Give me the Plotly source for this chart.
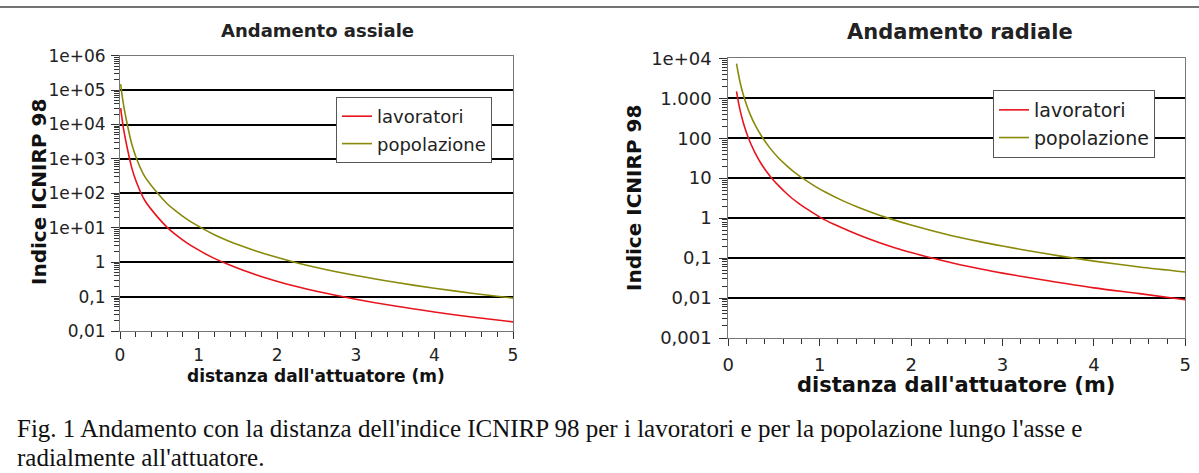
import plotly.graph_objects as go

W, H = 1199, 473

# ---- data ----
ax_x_pop = [0.008, 0.042, 0.093, 0.148, 0.212, 0.318, 0.479, 0.60, 0.70, 0.85, 1.047, 1.2, 1.38,
            1.55, 1.72, 1.95, 2.22, 2.5, 3.0, 3.5, 4.0, 4.5, 5.0]
ax_y_pop = [1.5e5, 4.1e4, 1.0e4, 2800, 1000, 300, 100, 50, 32, 17.8, 9.6, 6.3, 4.15,
            2.95, 2.15, 1.48, 1.0, 0.70, 0.41, 0.26, 0.175, 0.123, 0.09]

ax_x_lav = [0.008, 0.042, 0.093, 0.148, 0.212, 0.318, 0.479, 0.60, 0.70, 0.85, 1.047, 1.2, 1.38,
            1.55, 1.72, 1.95, 2.22, 2.5, 3.0, 3.5, 4.0, 4.5, 5.0]
ax_y_lav = [3.0e4, 8300, 2040, 570, 204, 61, 20.4, 10.3, 6.5, 3.63, 1.96, 1.29, 0.85,
            0.60, 0.44, 0.30, 0.204, 0.143, 0.084, 0.053, 0.0357, 0.0251, 0.0184]

rad_x_pop = [0.09, 0.11, 0.13, 0.165, 0.2, 0.24, 0.3, 0.37, 0.45, 0.55, 0.65, 0.75, 0.82, 0.95, 1.06, 1.25,
             1.42, 1.6, 1.75, 2.0, 2.37, 2.75, 3.0, 3.5, 3.78, 4.0, 4.5, 5.0]
rad_y_pop = [7400, 4100, 2450, 1200, 680, 390, 200, 107, 59, 32, 19.5, 12.6, 9.7, 6.25, 4.5, 2.74,
             1.87, 1.31, 1.0, 0.67, 0.40, 0.258, 0.20, 0.126, 0.10, 0.084, 0.060, 0.045]

rad_x_lav = [0.09, 0.11, 0.13, 0.165, 0.2, 0.24, 0.3, 0.36, 0.42, 0.475, 0.55, 0.62, 0.7, 0.77, 0.88, 1.02,
             1.15, 1.31, 1.47, 1.64, 1.82, 2.0, 2.23, 2.5, 2.75, 3.0, 3.5, 4.0, 4.5, 5.0]
rad_y_lav = [1480, 810, 490, 240, 135, 78, 40, 23, 14.5, 10, 6.5, 4.5, 3.1, 2.35, 1.58, 1.0,
             0.71, 0.49, 0.347, 0.25, 0.182, 0.138, 0.10, 0.071, 0.054, 0.042, 0.027, 0.018, 0.0129, 0.0091]

ax_tickvals = [0.01, 0.1, 1, 10, 100, 1e3, 1e4, 1e5, 1e6]
ax_ticktext = ["0,01", "0,1", "1", "1e+01", "1e+02", "1e+03", "1e+04", "1e+05", "1e+06"]
rad_tickvals = [0.001, 0.01, 0.1, 1, 10, 100, 1000, 1e4]
rad_ticktext = ["0,001", "0,01", "0,1", "1", "10", "100", "1.000", "1e+04"]

series_names = ["lavoratori", "popolazione"]
RED = "#e8141c"
OLIVE = "#898a0a"

FONT = "DejaVu Sans"


def px(x):
    return x / W


def py(y):
    return 1 - y / H


def minor_vals(lo, hi):
    vals = []
    for d in range(lo, hi):
        for k in range(2, 10):
            vals.append(k * 10 ** d)
    return vals


fig = go.Figure()

line_common = dict(width=1.6, shape="spline", smoothing=0.8)
fig.add_trace(go.Scatter(x=ax_x_lav, y=ax_y_lav, mode="lines", name=series_names[0],
                         line=dict(color=RED, **line_common),
                         xaxis="x", yaxis="y", legend="legend", legendgroup="a"))
fig.add_trace(go.Scatter(x=ax_x_pop, y=ax_y_pop, mode="lines", name=series_names[1],
                         line=dict(color=OLIVE, **line_common),
                         xaxis="x", yaxis="y", legend="legend", legendgroup="b"))
fig.add_trace(go.Scatter(x=rad_x_lav, y=rad_y_lav, mode="lines", name=series_names[0],
                         line=dict(color=RED, **line_common),
                         xaxis="x2", yaxis="y2", legend="legend2", legendgroup="c"))
fig.add_trace(go.Scatter(x=rad_x_pop, y=rad_y_pop, mode="lines", name=series_names[1],
                         line=dict(color=OLIVE, **line_common),
                         xaxis="x2", yaxis="y2", legend="legend2", legendgroup="d"))

common_x = dict(range=[0, 5], tickmode="linear", tick0=0, dtick=1, showgrid=False, zeroline=False,
                showline=True, linecolor="#777", linewidth=1, mirror=True, automargin=False,
                ticks="outside", ticklen=7, tickcolor="#333", tickwidth=1,
                minor=dict(dtick=0.2, ticks="outside", ticklen=5, tickcolor="#333", showgrid=False))
common_y = dict(type="log", showgrid=True, gridcolor="black", gridwidth=2, zeroline=False,
                showline=True, linecolor="#777", linewidth=1, mirror=True, automargin=False,
                ticks="outside", ticklen=8, tickcolor="#333", tickwidth=1, tickmode="array")

fig.update_layout(
    width=W, height=H,
    margin=dict(l=0, r=0, t=0, b=0, pad=0, autoexpand=False),
    paper_bgcolor="white", plot_bgcolor="white",
    font=dict(family=FONT, color="#222"),
    xaxis=dict(domain=[px(120), px(513)], anchor="y", tickfont=dict(size=17, family=FONT, color="#222"),
               ticklabelstandoff=2, **common_x),
    yaxis=dict(domain=[py(331), py(55.7)], anchor="x", range=[-2, 6],
               tickvals=ax_tickvals, ticktext=ax_ticktext,
               tickfont=dict(size=17, family=FONT, color="#222"), ticklabelstandoff=2,
               minor=dict(tickvals=minor_vals(-2, 6), ticks="outside", ticklen=5, tickcolor="#333", showgrid=False),
               **common_y),
    xaxis2=dict(domain=[px(728.3), px(1185.3)], anchor="y2", tickfont=dict(size=18, family=FONT, color="#222"),
                ticklabelstandoff=3, **common_x),
    yaxis2=dict(domain=[py(338), py(58.3)], anchor="x2", range=[-3, 4],
                tickvals=rad_tickvals, ticktext=rad_ticktext,
                tickfont=dict(size=18, family=FONT, color="#222"), ticklabelstandoff=4,
                minor=dict(tickvals=minor_vals(-3, 4), ticks="outside", ticklen=5, tickcolor="#333", showgrid=False),
                **common_y),
    legend=dict(x=px(336), y=py(97), xanchor="left", yanchor="top", bgcolor="white",
                bordercolor="#555", borderwidth=1, font=dict(size=18, family=FONT, color="#222"),
                tracegroupgap=1),
    legend2=dict(x=px(993), y=py(90), xanchor="left", yanchor="top", bgcolor="white",
                 bordercolor="#555", borderwidth=1, font=dict(size=19, family=FONT, color="#222"),
                 tracegroupgap=0),
    showlegend=True,
)

annotations = [
    dict(text="<b>Andamento assiale</b>", x=px(317), y=py(30), font=dict(size=18, family=FONT, color="#222")),
    dict(text="<b>Andamento radiale</b>", x=px(960), y=py(32), font=dict(size=21, family=FONT, color="#222")),
    dict(text="<b>distanza dall'attuatore (m)</b>", x=px(316), y=py(376), font=dict(size=17, family=FONT, color="#111")),
    dict(text="<b>distanza dall'attuatore (m)</b>", x=px(956), y=py(385), font=dict(size=21, family=FONT, color="#111")),
    dict(text="<b>Indice ICNIRP 98</b>", x=px(39), y=py(192), textangle=-90, font=dict(size=20, family=FONT, color="#111")),
    dict(text="<b>Indice ICNIRP 98</b>", x=px(634), y=py(198), textangle=-90, font=dict(size=20, family=FONT, color="#111")),
    dict(text="Fig. 1 Andamento con la distanza dell'indice ICNIRP 98 per i lavoratori e per la popolazione lungo l'asse e",
         x=px(15), y=py(428), xanchor="left", font=dict(size=25, family="Liberation Serif", color="#111")),
    dict(text="radialmente all'attuatore.",
         x=px(15), y=py(457), xanchor="left", font=dict(size=25, family="Liberation Serif", color="#111")),
]
for a in annotations:
    a.setdefault("xanchor", "center")
    a["xref"] = "paper"
    a["yref"] = "paper"
    a["showarrow"] = False
    a["yanchor"] = "middle"
fig.update_layout(annotations=annotations)

fig.add_shape(type="line", xref="paper", yref="paper", x0=0, x1=1, y0=py(7), y1=py(7),
              line=dict(color="#444", width=1.5))

fig.write_html("out.html", config={"displayModeBar": False},
               post_script="document.body.style.margin='0px';")
